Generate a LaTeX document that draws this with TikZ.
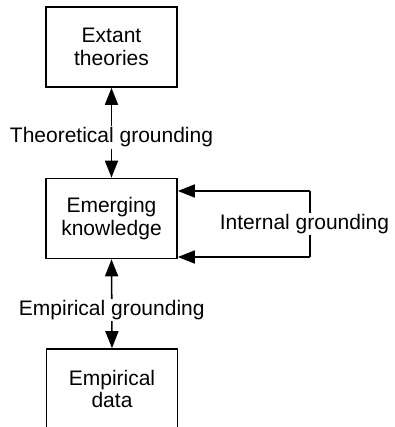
\documentclass[tikz,border=0pt]{standalone}
\usepackage{fontspec}
\setmainfont{Liberation Sans}
\usetikzlibrary{arrows.meta}
\begin{document}
\begin{tikzpicture}[x=1pt,y=-1pt,
  box/.style={draw, line width=1.6pt, minimum width=131pt, minimum height=80pt, align=center, font=\fontsize{21}{22.5}\selectfont, inner sep=0pt},
  lbl/.style={fill=white, inner sep=1.5pt, font=\fontsize{21}{22.5}\selectfont},
  conn/.style={line width=1.6pt},
  arr/.style={conn, -{Triangle[width=13pt,length=17pt]}},
  arrs/.style={conn, {Triangle[width=13pt,length=17pt]}-{Triangle[width=13pt,length=17pt]}}]
\useasboundingbox (0,0) rectangle (394,427);
\node[box] (top) at (111.5,47) {Extant\\theories};
\node[box] (mid) at (111.5,218.5) {Emerging\\knowledge};
\node[box] (bot) at (112,389) {Empirical\\data};
\draw[arrs] (top.south) -- node[lbl, pos=0.55] (tl) {Theoretical grounding} (mid.north);
\draw[arrs] (mid.south) -- node[lbl, pos=0.57] (el) {Empirical grounding} (bot.north);
\coordinate (c1) at (310,191);
\coordinate (c2) at (310,257);
\draw[conn] (c1) -- (c2);
\node[lbl] (il) at (304.5,224) {Internal grounding};
\draw[arr] (c1) -- (c1 -| mid.east);
\draw[arr] (c2) -- (c2 -| mid.east);
\end{tikzpicture}
\end{document}
